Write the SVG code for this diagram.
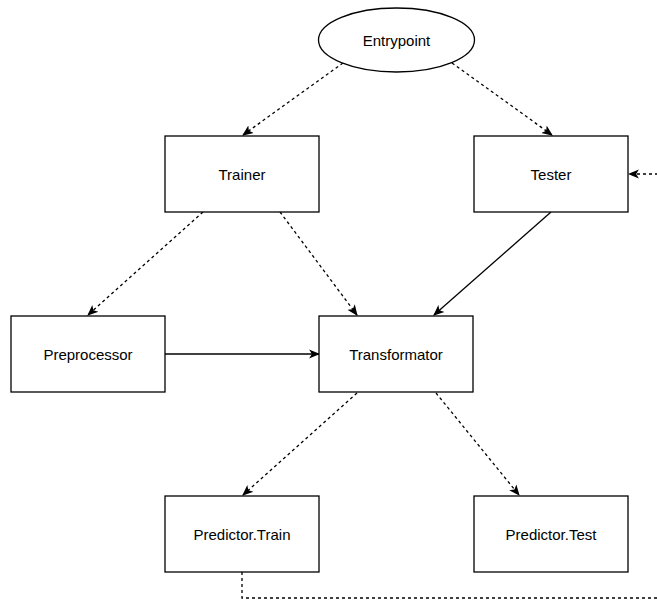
<svg xmlns="http://www.w3.org/2000/svg" width="657" height="603" viewBox="0 0 657 603">
  <style>
    .node { fill: #ffffff; stroke: #000000; stroke-width: 1.3; }
    .label { font-family: "Liberation Sans", Arial, sans-serif; font-size: 15px; fill: #000000; text-anchor: middle; dominant-baseline: central; }
    .edge { fill: none; stroke: #000000; stroke-width: 1.3; marker-end: url(#arrow); }
    .dashed { stroke-dasharray: 3 3; }
  </style>
  <defs>
    <marker id="arrow" viewBox="0 0 10 10" refX="9" refY="5" markerWidth="11" markerHeight="11" markerUnits="userSpaceOnUse" orient="auto">
      <path d="M0,0.8 L10,5 L0,9.2 L2.5,5 Z" fill="#000000" stroke="none"/>
    </marker>
  </defs>

  <g id="connectors">
    <path class="edge dashed" d="M343,63 L243,135"/>
    <path class="edge dashed" d="M452,63 L552,135"/>
    <path class="edge dashed" d="M203,212 L88,315"/>
    <path class="edge dashed" d="M280,212 L357,315"/>
    <path class="edge" d="M551,212 L434,315"/>
    <path class="edge" d="M165,354 L319,354"/>
    <path class="edge dashed" d="M357,393 L243,495"/>
    <path class="edge dashed" d="M436,393 L519,495"/>
    <path class="edge dashed" d="M242,572 L242,598 L690,598 L690,174 L629,174"/>
  </g>

  <g id="entrypoint">
    <ellipse class="node" cx="396.5" cy="40" rx="78" ry="32"/>
    <text class="label" x="396.5" y="40">Entrypoint</text>
  </g>
  <g id="trainer">
    <rect class="node" x="165" y="136" width="154" height="76"/>
    <text class="label" x="242" y="174">Trainer</text>
  </g>
  <g id="tester">
    <rect class="node" x="474" y="136" width="154" height="76"/>
    <text class="label" x="551" y="174">Tester</text>
  </g>
  <g id="preprocessor">
    <rect class="node" x="11" y="316" width="154" height="76"/>
    <text class="label" x="88" y="354">Preprocessor</text>
  </g>
  <g id="transformator">
    <rect class="node" x="319" y="316" width="154" height="76"/>
    <text class="label" x="396" y="354">Transformator</text>
  </g>
  <g id="predictor-train">
    <rect class="node" x="165" y="496" width="154" height="76"/>
    <text class="label" x="242" y="534">Predictor.Train</text>
  </g>
  <g id="predictor-test">
    <rect class="node" x="474" y="496" width="154" height="76"/>
    <text class="label" x="551" y="534">Predictor.Test</text>
  </g>
</svg>
